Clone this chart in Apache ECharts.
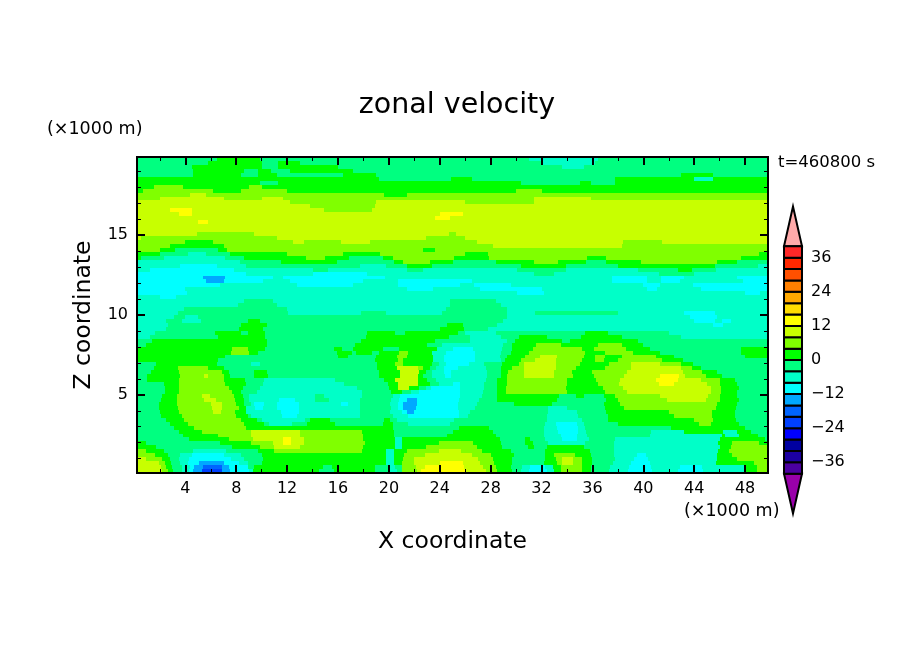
<!DOCTYPE html>
<html>
<head>
<meta charset="utf-8">
<style>html,body{margin:0;padding:0;background:#fff}#main{width:904px;height:654px}</style>
<script src="https://cdn.jsdelivr.net/npm/echarts@6/dist/echarts.min.js"></script>
</head>
<body>
<div id="main"></div>
<script>
var xStart = 0.2, xEnd = 49.8, zTop = 19.9, zBottom = 0.1;
var xMajor = [4, 8, 12, 16, 20, 24, 28, 32, 36, 40, 44, 48];
var xMinor = [2, 6, 10, 14, 18, 22, 26, 30, 34, 38, 42, 46];
var zMajor = [5, 10, 15];
var zMinor = [1, 2, 3, 4, 6, 7, 8, 9, 11, 12, 13, 14, 16, 17, 18, 19];
var barLabels = [-36, -24, -12, 0, 12, 24, 36];

// colour bar, lowest band first, 4 m/s per band
var barLevels = [-40, -36, -32, -28, -24, -20, -16, -12, -8, -4, 0, 4, 8, 12, 16, 20, 24, 28, 32, 36];
var barColors = ['#4b00a0', '#1c00a0', '#0000a0', '#0000ff', '#0040ff', '#0064ff', '#00a8ff', '#00ffff', '#00ffc8', '#00ff80',
    '#00ff00', '#80ff00', '#c8ff00', '#ffff00', '#ffdc00', '#ffa800', '#ff8000', '#ff5000', '#ff2800', '#ff2828'];

// velocity of each letter (middle of its band)
var bandValue = {k: -22, b: -18, s: -14, c: -10, t: -6, m: -2, g: 2, l: 6, y: 10, Y: 14};

// one string per height, top first: band letter + x (km) where it ends
var zonalRows = [
    "m6.5 g9.9 m31 t36.4 m49.8",
    "m5.8 g10 m11.3 g13 m32 t36.2 m49.8",
    "m4.5 g10 m11.3 g16 m33.6 t35.3 m49.8",
    "m4.6 g8.6 m9.7 g10.7 m12.2 g17.2 m49.8",
    "m4.6 g8.4 m9.7 g11.2 m16.4 g19 m43 g45.5 m49.8",
    "g19.2 m24.9 g26.5 m37.8 g44 t45.5 g49.8",
    "g9.9 m11.3 g30.4 m35 g35.9 m37.8 g49.8",
    "g1.5 l3.8 g9 l10 g49.8",
    "g0.7 l6.2 g8.4 l12 g30 l32 g49.8",
    "l4.4 y5.6 l19.6 g21.4 l49.8",
    "l2 y7 l10 y11.7 l31.4 y35.9 l49.8",
    "y12.2 l19 y26 l31.4 y49.8",
    "y13.8 l18.9 y49.8",
    "y2.8 Y4.5 y14.9 l18.7 y49.8",
    "y3.5 Y4.5 y24 Y25.8 y49.8",
    "y23.6 Y24.8 y49.8",
    "y5 Y5.8 y49.8",
    "y49.8",
    "y49.8",
    "y4.9 l9.4 y24.7 l25.3 y49.8",
    "y0.5 l11.2 y22.9 l26 y49.8",
    "l4 g6.2 l12.5 y13.3 l16.2 y18.5 l26.9 y38.4 l41.5 y49.8",
    "l2.8 g7 l28.2 y38.3 l49.8",
    "l2 g3.2 m6.6 g7.3 l22.7 g23.6 l49.8",
    "g2 m4.2 t5.6 m7.5 g12 l16.4 g19.3 l26 g27.8 l49.1 g49.8",
    "g0.5 m2.3 t7.1 m8.6 g13.5 l15 g16.9 m19.5 g20.3 l25.1 g27.9 l35.6 g37.1 l47.7 g49.8",
    "t8.3 m11.5 g15.9 m20.4 g21.1 l23.2 g25 m28.4 g31.4 l33.3 g35.5 m37.1 g39.8 l45.8 g47.4 m49.8",
    "t3.6 c6.5 t8.8 m17.7 t19.8 m21.4 g23.4 m30.4 g33.9 m38 g45.6 m49 t49.8",
    "t1.2 c7.8 t14 m15.2 t21.4 m22.7 t30.1 m33.9 t39.6 m42.7 g43.8 m45.7 t49.8",
    "c8.8 t14 c18.3 t31.4 m33 t41.2 m44 t49.8",
    "c5.4 s7.1 c10.9 t11.7 c19.7 t37.5 c40.3 t41.4 c43.2 t47.4 c49.8",
    "c5.6 s7 c10.1 t12.2 c18 t20.7 c26.5 t37.5 c40.3 t41.4 c42.9 t47.8 c49.8",
    "c6.7 t12.8 c17.2 t20.7 c25.6 t26.7 c29.6 t40 c41.3 t43.9 c49.8",
    "c4 t21.4 c23.5 t27.2 c32 t40.3 c41.1 t44.5 c49.8",
    "c4.1 t30.1 c32.2 t48 c49.2 t49.8",
    "t2 c3.3 t49.8",
    "t8.6 m10.9 t24.8 m28.4 t49.8",
    "t8.1 m11.2 t24.8 m28.8 t49.8",
    "t3.9 m12 t24.5 m29.3 t49.8",
    "t3.4 m12.1 t17.8 m19.8 t24.2 m29.3 t31.5 m38 t43.2 c45.6 t49.8",
    "t3.1 m4 t5 m29.3 t43.7 c45.8 t49.8",
    "t2.5 m3.7 t5.2 m8.9 g9.9 m29 t44 c45.6 t46.2 c46.9 t49.8",
    "t2.6 m8.4 g10.4 m24.6 g25.8 m28.5 t45.5 c46.3 t49.8",
    "t2.5 m8.2 g10.1 m24 g25.9 m27.8 t49.8",
    "t1.6 m6.3 g8.4 m8.9 g10.3 m18.3 g20.5 m21.3 g25.4 m26 t28.4 m35.4 g37.2 m42 t49.8",
    "t1.2 m6.6 g10.3 m18.2 g24.7 m26.4 t28.8 m30.2 g32.4 m35.1 g38.3 m43 t49.8",
    "m1.4 g10.4 m17.8 g23.6 m26.4 t29.3 m29.9 g33.6 m34.2 g39.6 m49.8",
    "m0.9 g10.4 m17.3 g23 m24.2 t29 m29.7 g31.6 l33.5 g36.4 l38.3 g40 m49.8",
    "g7.7 l8.9 g10.3 m15.7 g16.3 m17.2 g19.5 m20.8 g23.8 t25 c26.6 t28.9 m29.7 g31.3 l35.2 g36.1 l38.6 g40.5 m47.7 g49.8",
    "g7.6 l9 g9.7 m15.9 g17.1 m17.4 g18.7 m19.2 g20.8 l21.5 g23.4 t24.5 c26.8 t28.8 m29.6 g31 l35.4 g37 l39.2 g41.3 m47.7 g49.8",
    "g7.1 m16 g16.8 m19 g20.6 l21.4 g23.5 t24.3 c26.8 t28.7 m29.3 g30.7 l31.9 y33.2 l35.3 g36.2 l37 g38.3 l41 g42.4 m48 g49.8",
    "g6.6 m18.9 g20.7 l21.1 g23.5 t24.3 c26.8 t28.8 m29.1 g30.4 l31.5 y33.1 l35.2 g36.2 l36.9 g38 l41.5 g43.1 m49.8",
    "m1.7 g6.5 m9.2 t9.9 m19.1 g20.5 l21.1 g23.4 m23.9 t24.5 c26.3 t27.5 m28.9 g30.2 l30.6 y33.1 l35 g37.3 l39 y41.3 l43 g43.9 m49.8",
    "m1.5 g3.4 l5.8 g7 m19.1 g20.6 y22.3 l22.7 g23.2 m23.7 t24.3 c25.4 t27.6 m28.8 g29.7 l30.6 y33.1 l34.7 g37 l39 y43 l43.8 g44.5 m49.8",
    "m1.3 g3.5 l6.9 g7.4 m9.4 g10.4 m19.2 g20.9 y22.4 g22.9 m23.4 t24.3 c24.9 t27.7 m28.8 g29.4 l30.6 y33 l34.4 g36 l38.7 y43.1 l44.6 g45.8 m49.8",
    "m1 g3.6 l5.5 y5.8 l7 g7.5 m9.4 g10.5 m19.2 g20.9 y22.3 g22.7 m23.4 t24.4 c24.9 t27.7 m28.8 g29.3 l30.6 y33 l34.5 g36.1 l38.5 y41.3 Y42.8 y43.3 l44.9 g46.2 m49.8",
    "m1 g3.5 l7 g8.7 m10.2 t15.8 m19.6 g20.5 y22.3 g23 m23.7 t27.6 m28.5 g29.3 l34 g36.3 l38.2 y41 Y42.7 y44.5 l46 g47.2 m49.8",
    "m2.3 g3.5 l7.1 g8.8 m10.1 t16.5 m19.9 g20.7 y22.3 g23.2 m23.9 t25 c25.6 t27.5 m28.5 g29.3 l34 g36.4 l38.1 y41.2 Y42.4 y45 l46 g47.4 m49.8",
    "m2.4 g3.5 l7.4 g8.5 m9.9 t17.5 m20 g20.7 y21.6 g22.4 m22.9 t23.3 c25.6 t27.5 m28.5 g29.2 l33.9 g36.8 l38.4 y45.3 l46.1 g47.5 m49.8",
    "m2.4 g3.5 l7.7 g8.4 m9.6 t17.9 m20.2 g21 m21.7 t22.4 c25.6 t27.4 m28.5 g29.2 l34 g37 l38.7 y45.3 l46.1 g47.4 m49.8",
    "m2.2 g3.35 l5.3 y5.9 l7.8 g8.5 m9 t14.2 m14.9 t17.9 m20.3 t20.9 c25.6 t27.3 m28.5 g33.4 m34.7 g35.3 m36.9 g37.8 l41.3 y45.1 l46 g47.4 m49.8",
    "m2.1 g3.35 l5.5 y6.4 l7.9 g8.6 m9 t11.4 c12.6 t14.2 m15.3 t17.7 m20.2 t20.8 c21.4 s22.2 c25.5 t27.1 m28.5 g33.2 m37.1 g38 l41.9 y44.9 l46 g47.5 m49.8",
    "m1.9 g3.35 l6 y6.9 l8 g8.6 m9.2 t9.4 c10.2 t11.2 c12.9 t16.2 c16.8 t17.7 m20.1 t20.7 c21.1 s22.2 c25.4 t26.9 m29.8 g32.8 m36.9 g38.2 l45.8 g47.4 m49.8",
    "m1.9 g3.4 l6.1 y6.9 l8.2 g8.8 t9.5 c10.1 t11.2 c12.9 t17.7 m20.2 t20.7 c21.1 s22.1 c25.4 t26.8 m32.5 t34 m37 g38.5 l45.7 g47.3 m49.8",
    "m2 g3.5 l6.2 y6.8 l7.9 g8.8 t11.5 c12.9 t17.7 m20.1 t21 c21.4 s22 c25.5 t26.4 m32.5 t34.8 m37.1 g42 l45.4 g47.2 m49.8",
    "m2.1 g3.7 l8 g8.9 m9.2 t11.6 c12.8 t17.7 m20.3 t21.5 c25.5 t26.2 m32.4 t34.9 m37.2 g42.4 l45.4 g47.2 m49.8",
    "m2.5 g3.9 l8.4 g9.6 m10 t13.4 m13.8 g15.4 m19.6 g20.1 m20.6 t25.1 m32.4 t35.2 m37.2 g44 l45.5 g47.3 m49.8",
    "m2.8 g4.2 l8.6 g10.2 m10.6 t12.4 m13.6 g15.8 m19.5 g20.3 m21.5 t24.8 m32.3 t33.1 c34.8 t35.3 m38 g44.4 l45.3 g47.5 m49.8",
    "m3.1 g4.7 l8.8 g20.3 m25.5 g27.9 m32.2 t33.2 c34.9 t35.4 m42.2 g48 m49.8",
    "m3.5 g5.3 l9.2 y13 l17.9 g20.4 m25 g28.2 m32.2 t33.3 c34.9 t35.5 m40.6 t43.2 g46.3 t47.4 g48.5 m49.8",
    "m3.8 g6.6 l9.2 y13 l18 g20.4 m24.6 g28.4 m32.2 t33.5 c34.8 t35.6 m40.5 t46.2 g46.4 t47.5 g49 m49.8",
    "m4.3 g7.4 l9.3 y11.7 Y12.3 y13.3 l18 g20.5 t21 g28.7 m30.7 g31.1 m32.3 t33.6 c34.8 t35.7 m37.8 t46 g49.6 m49.8",
    "g0.9 m6.7 g9.2 l10.9 y11.7 Y12.3 y13.3 l18.1 g20.5 t21 g23.9 l26.6 g28.8 m30.7 g31.3 m32.5 t35.4 m37.7 t45.9 g47 l49.1 g49.8",
    "g1.7 m7.7 g9.9 l11 y13 l18 g20.5 t21 g22.9 l26.9 g28.9 m30.9 g31.4 m32.4 g35.3 m37.7 t46 g46.9 l49.8",
    "l0.9 g2.3 m4.6 t7.2 m9.7 g11 l17.9 g19.8 t20.4 g21.4 l23.9 y25.7 l27.3 g29.6 m32.3 g35.8 m37.7 t45.9 g46.7 l49.8",
    "l1.6 g2.6 m3.6 t4.5 c7 t8.4 m10 g19.8 t20.4 g21.2 l22.8 y26.5 l28 g29.8 m32.3 g33 l34.6 g35.9 m37.7 t39.5 c40.2 t45.8 g47 l49.8",
    "y0.9 l2.2 g2.8 m3.5 t4.3 c7.6 t8.6 m10.1 g19.8 t20.4 g21.1 l22 y27 l28.2 g29.7 m32.3 g33.1 l33.6 y34.5 l35.2 g36 m37.8 t39.3 c40.4 t45.8 g47.4 l49.8",
    "y1.9 l2.4 g2.9 m3.6 t4.2 c5.1 s7 c8.2 t8.9 m10 g19.8 t20.4 g21 l22 y24 Y25.8 y27.2 l28.3 g29.7 m32.2 g33.2 l33.6 y34.5 l35.2 g36 m37.6 t39 c40.5 t45.7 g48.7 l49.8",
    "y2.1 l2.5 g2.95 m3.7 t4.4 c4.7 s5.4 b6.9 s7.4 c8.9 m9.4 g14.8 m15.5 g18.9 m20 t20.5 m21 l22.1 y22.8 Y25.9 y27.4 l28.4 g29.6 m30.5 t31.1 c32.3 t32.9 g33.5 l35.2 g35.9 m37.4 t38.9 c40.6 t42.9 c44.6 t47.9 g48.9 l49.8",
    "y2.2 l2.6 g3 m3.7 t4.3 c4.6 s5.3 k6.9 s7.5 c9 t9.3 g14.5 m15.7 g18.9 m20 t20.6 m21 l22.2 y22.5 Y26 y27.6 l28.5 g29.7 m30.4 t31 c32.4 t33 g33.5 l35.2 g35.9 m37.3 t38.8 c40.7 t42.7 c44.7 t47.9 g48.9 l49.8"
];

function bandColor(v) {
    return barColors[Math.floor((v + 40) / 4)];
}

var cells = [];
var rowHeight = (zTop - zBottom) / zonalRows.length;
for (var i = 0; i < zonalRows.length; i++) {
    var parts = zonalRows[i].split(' ');
    var left = xStart;
    for (var j = 0; j < parts.length; j++) {
        var right = parseFloat(parts[j].substring(1));
        cells.push([left, right, zTop - i * rowHeight, zTop - (i + 1) * rowHeight, bandValue[parts[j].charAt(0)]]);
        left = right;
    }
}

function renderCell(params, api) {
    var a = api.coord([api.value(0), api.value(2)]);
    var b = api.coord([api.value(1), api.value(3)]);
    var x0 = Math.round(a[0]), y0 = Math.round(a[1]);
    return {
        type: 'rect',
        shape: {x: x0, y: y0, width: Math.round(b[0]) - x0, height: Math.round(b[1]) - y0},
        style: {fill: bandColor(api.value(4))},
        silent: true
    };
}

var barCells = [];
for (var n = 0; n < barLevels.length; n++) {
    barCells.push([barLevels[n], barLevels[n] + 4, barColors[n]]);
}

function renderBarCell(params, api) {
    var a = api.coord([0, api.value(0)]);
    var b = api.coord([1, api.value(1)]);
    return {
        type: 'rect',
        shape: {x: a[0], y: b[1], width: b[0] - a[0], height: a[1] - b[1]},
        style: {fill: barCells[params.dataIndex][2], stroke: '#000', lineWidth: 2},
        silent: true
    };
}

// over and under range triangles of the colour bar
var barEnds = [[40, 54, '#ffaaaa'], [-40, -54, '#9900aa']];

function renderBarEnd(params, api) {
    var a = api.coord([0, api.value(0)]);
    var b = api.coord([1, api.value(0)]);
    var tip = api.coord([0.5, api.value(1)]);
    return {
        type: 'polygon',
        shape: {points: [a, b, tip]},
        style: {fill: barEnds[params.dataIndex][2], stroke: '#000', lineWidth: 2},
        silent: true
    };
}

var tickFont = {fontFamily: 'DejaVu Sans', fontSize: 16, color: '#000'};
var frame = {show: true, onZero: false, lineStyle: {color: '#000', width: 2}};

function xAxisOf(pos, values, len, width, labels) {
    return {
        type: 'value', gridIndex: 0, position: pos, min: xStart, max: xEnd, z: 10,
        splitLine: {show: false}, axisLine: frame,
        axisTick: {show: true, inside: true, length: len, lineStyle: {color: '#000', width: width}, customValues: values},
        axisLabel: labels ? Object.assign({show: true, margin: 8, customValues: xMajor}, tickFont) : {show: false}
    };
}

function zAxisOf(pos, values, len, width, labels) {
    return {
        type: 'value', gridIndex: 0, position: pos, min: zBottom, max: zTop, z: 10,
        splitLine: {show: false}, axisLine: frame,
        axisTick: {show: true, inside: true, length: len, lineStyle: {color: '#000', width: width}, customValues: values},
        axisLabel: labels ? Object.assign({show: true, margin: 9, customValues: zMajor}, tickFont) : {show: false}
    };
}

var xBottom = xAxisOf('bottom', xMajor, 8, 2, true);
xBottom.name = 'X coordinate';
xBottom.nameLocation = 'middle';
xBottom.nameGap = 57;
xBottom.nameTextStyle = {fontFamily: 'DejaVu Sans', fontSize: 23.5, color: '#000'};

var zLeft = zAxisOf('left', zMajor, 8, 2, true);
zLeft.name = 'Z coordinate';
zLeft.nameLocation = 'middle';
zLeft.nameGap = 41;
zLeft.nameTextStyle = {fontFamily: 'DejaVu Sans', fontSize: 23.5, color: '#000'};

var option = {
    backgroundColor: '#fff',
    animation: false,
    title: {
        text: 'zonal velocity', left: 452, top: 86, textAlign: 'center',
        textStyle: {fontFamily: 'DejaVu Sans', fontSize: 28.5, fontWeight: 'normal', color: '#000'}
    },
    grid: [
        {left: 137, top: 157, width: 631, height: 316},
        {left: 784, top: 206.5, width: 18, height: 307}
    ],
    xAxis: [
        xBottom,
        xAxisOf('bottom', xMinor, 4, 1, false),
        xAxisOf('top', xMajor, 8, 2, false),
        xAxisOf('top', xMinor, 4, 1, false),
        {type: 'value', gridIndex: 1, min: 0, max: 1, show: false}
    ],
    yAxis: [
        zLeft,
        zAxisOf('left', zMinor, 4, 1, false),
        zAxisOf('right', zMajor, 8, 2, false),
        zAxisOf('right', zMinor, 4, 1, false),
        {
            type: 'value', gridIndex: 1, position: 'right', min: -54, max: 54,
            splitLine: {show: false}, axisLine: {show: false}, axisTick: {show: false},
            axisLabel: Object.assign({
                show: true, margin: 9, customValues: barLabels,
                formatter: function (v) { return String(v).replace('-', '\u2212'); }
            }, tickFont)
        }
    ],
    series: [
        {
            type: 'custom', xAxisIndex: 0, yAxisIndex: 0, data: cells, clip: true,
            renderItem: renderCell, encode: {x: [0, 1], y: [2, 3]}, z: 1
        },
        {
            type: 'custom', xAxisIndex: 4, yAxisIndex: 4, data: barEnds.map(function (d) { return [d[0], d[1]]; }),
            renderItem: renderBarEnd, encode: {y: [0, 1]}, z: 2
        },
        {
            type: 'custom', xAxisIndex: 4, yAxisIndex: 4, data: barCells.map(function (d) { return [d[0], d[1]]; }),
            renderItem: renderBarCell, encode: {y: [0, 1]}, z: 3
        }
    ],
    graphic: [
        {type: 'text', left: 47, top: 120, style: {text: '(×1000 m)', fontFamily: 'DejaVu Sans', fontSize: 17.5, fill: '#000'}},
        {type: 'text', left: 684, top: 502, style: {text: '(×1000 m)', fontFamily: 'DejaVu Sans', fontSize: 17.5, fill: '#000'}},
        {type: 'text', left: 778, top: 154, style: {text: 't=460800 s', fontFamily: 'DejaVu Sans', fontSize: 16.5, fill: '#000'}}
    ]
};

var myChart = echarts.init(document.getElementById('main'));
myChart.setOption(option);
</script>
</body>
</html>
